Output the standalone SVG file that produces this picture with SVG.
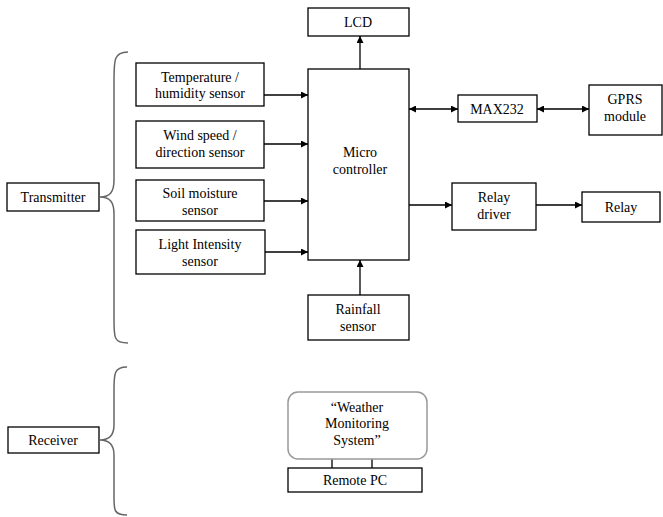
<svg xmlns="http://www.w3.org/2000/svg" width="663" height="517" viewBox="0 0 663 517">
<defs>
<marker id="ah" viewBox="0 0 10 10" refX="10" refY="5" markerWidth="7" markerHeight="7" orient="auto-start-reverse" markerUnits="userSpaceOnUse"><path d="M0,0 L10,5 L0,10 z" fill="#000"/></marker>
</defs>
<style>
.b{fill:#fff;stroke:#000;stroke-width:1.3}
text{font-family:'Liberation Serif','DejaVu Serif',serif;font-size:14px;fill:#000;text-anchor:middle}
.c{stroke:#000;stroke-width:1.3;fill:none}
.br{stroke:#666;stroke-width:1.5;fill:none}
</style>
<rect width="663" height="517" fill="#fff"/>
<g id="braces">
<path class="br" d="M128,52 C114,52 114,60 114,80 L114,180 C114,192 110,197 100,197 C110,197 114,202 114,214 L114,320 C114,338 114,343 128,343"/>
<path class="br" d="M127,367 C114,367 114,374 114,390 L114,425 C114,435 110,440 100,440 C110,440 114,445 114,455 L114,498 C114,510 114,515 127,515"/>
</g>
<g id="connectors">
<line class="c" x1="264" y1="95" x2="308" y2="95" marker-end="url(#ah)"/>
<line class="c" x1="264" y1="144" x2="308" y2="144" marker-end="url(#ah)"/>
<line class="c" x1="264" y1="201" x2="308" y2="201" marker-end="url(#ah)"/>
<line class="c" x1="265" y1="252" x2="308" y2="252" marker-end="url(#ah)"/>
<line class="c" x1="360" y1="69" x2="360" y2="36" marker-end="url(#ah)"/>
<line class="c" x1="360" y1="295" x2="360" y2="260" marker-end="url(#ah)"/>
<line class="c" x1="409" y1="109" x2="458" y2="109" marker-start="url(#ah)" marker-end="url(#ah)"/>
<line class="c" x1="537" y1="109" x2="589" y2="109" marker-start="url(#ah)" marker-end="url(#ah)"/>
<line class="c" x1="409" y1="205" x2="452" y2="205" marker-end="url(#ah)"/>
<line class="c" x1="536" y1="205" x2="582" y2="205" marker-end="url(#ah)"/>
<line class="c" x1="332" y1="459" x2="332" y2="468"/>
<line class="c" x1="372" y1="459" x2="372" y2="468"/>
</g>
<g id="transmitter"><rect class="b" x="7" y="183" width="92" height="28"/><text x="53" y="202">Transmitter</text></g>
<g id="receiver"><rect class="b" x="8" y="427" width="91" height="26"/><text x="53" y="445">Receiver</text></g>
<g id="temp"><rect class="b" x="136" y="63" width="128" height="43"/><text x="200" y="82">Temperature /</text><text x="200" y="98">humidity sensor</text></g>
<g id="wind"><rect class="b" x="136" y="121" width="128" height="47"/><text x="200" y="140">Wind speed /</text><text x="200" y="157">direction sensor</text></g>
<g id="soil"><rect class="b" x="136" y="180" width="128" height="41"/><text x="200" y="198">Soil moisture</text><text x="200" y="215">sensor</text></g>
<g id="light"><rect class="b" x="136" y="230" width="129" height="44"/><text x="200" y="249">Light Intensity</text><text x="200" y="266">sensor</text></g>
<g id="lcd"><rect class="b" x="308" y="8" width="101" height="28"/><text x="358" y="27">LCD</text></g>
<g id="micro"><rect class="b" x="308" y="69" width="101" height="191"/><text x="360" y="157">Micro</text><text x="360" y="174">controller</text></g>
<g id="rainfall"><rect class="b" x="308" y="295" width="101" height="45"/><text x="358" y="314">Rainfall</text><text x="358" y="331">sensor</text></g>
<g id="max232"><rect class="b" x="458" y="95" width="79" height="27"/><text x="497" y="114">MAX232</text></g>
<g id="gprs"><rect class="b" x="589" y="85" width="73" height="50"/><text x="625" y="104">GPRS</text><text x="625" y="121">module</text></g>
<g id="relaydriver"><rect class="b" x="452" y="183" width="84" height="47"/><text x="494" y="202">Relay</text><text x="494" y="219">driver</text></g>
<g id="relay"><rect class="b" x="582" y="192" width="78" height="30"/><text x="621" y="212">Relay</text></g>
<g id="wms"><rect x="288" y="392" width="139" height="67" rx="10" fill="#fff" stroke="#999" stroke-width="1.5"/><text x="357" y="412">“Weather</text><text x="357" y="428">Monitoring</text><text x="357" y="445">System”</text></g>
<g id="remotepc"><rect class="b" x="288" y="468" width="134" height="24"/><text x="355" y="485">Remote PC</text></g>
</svg>
